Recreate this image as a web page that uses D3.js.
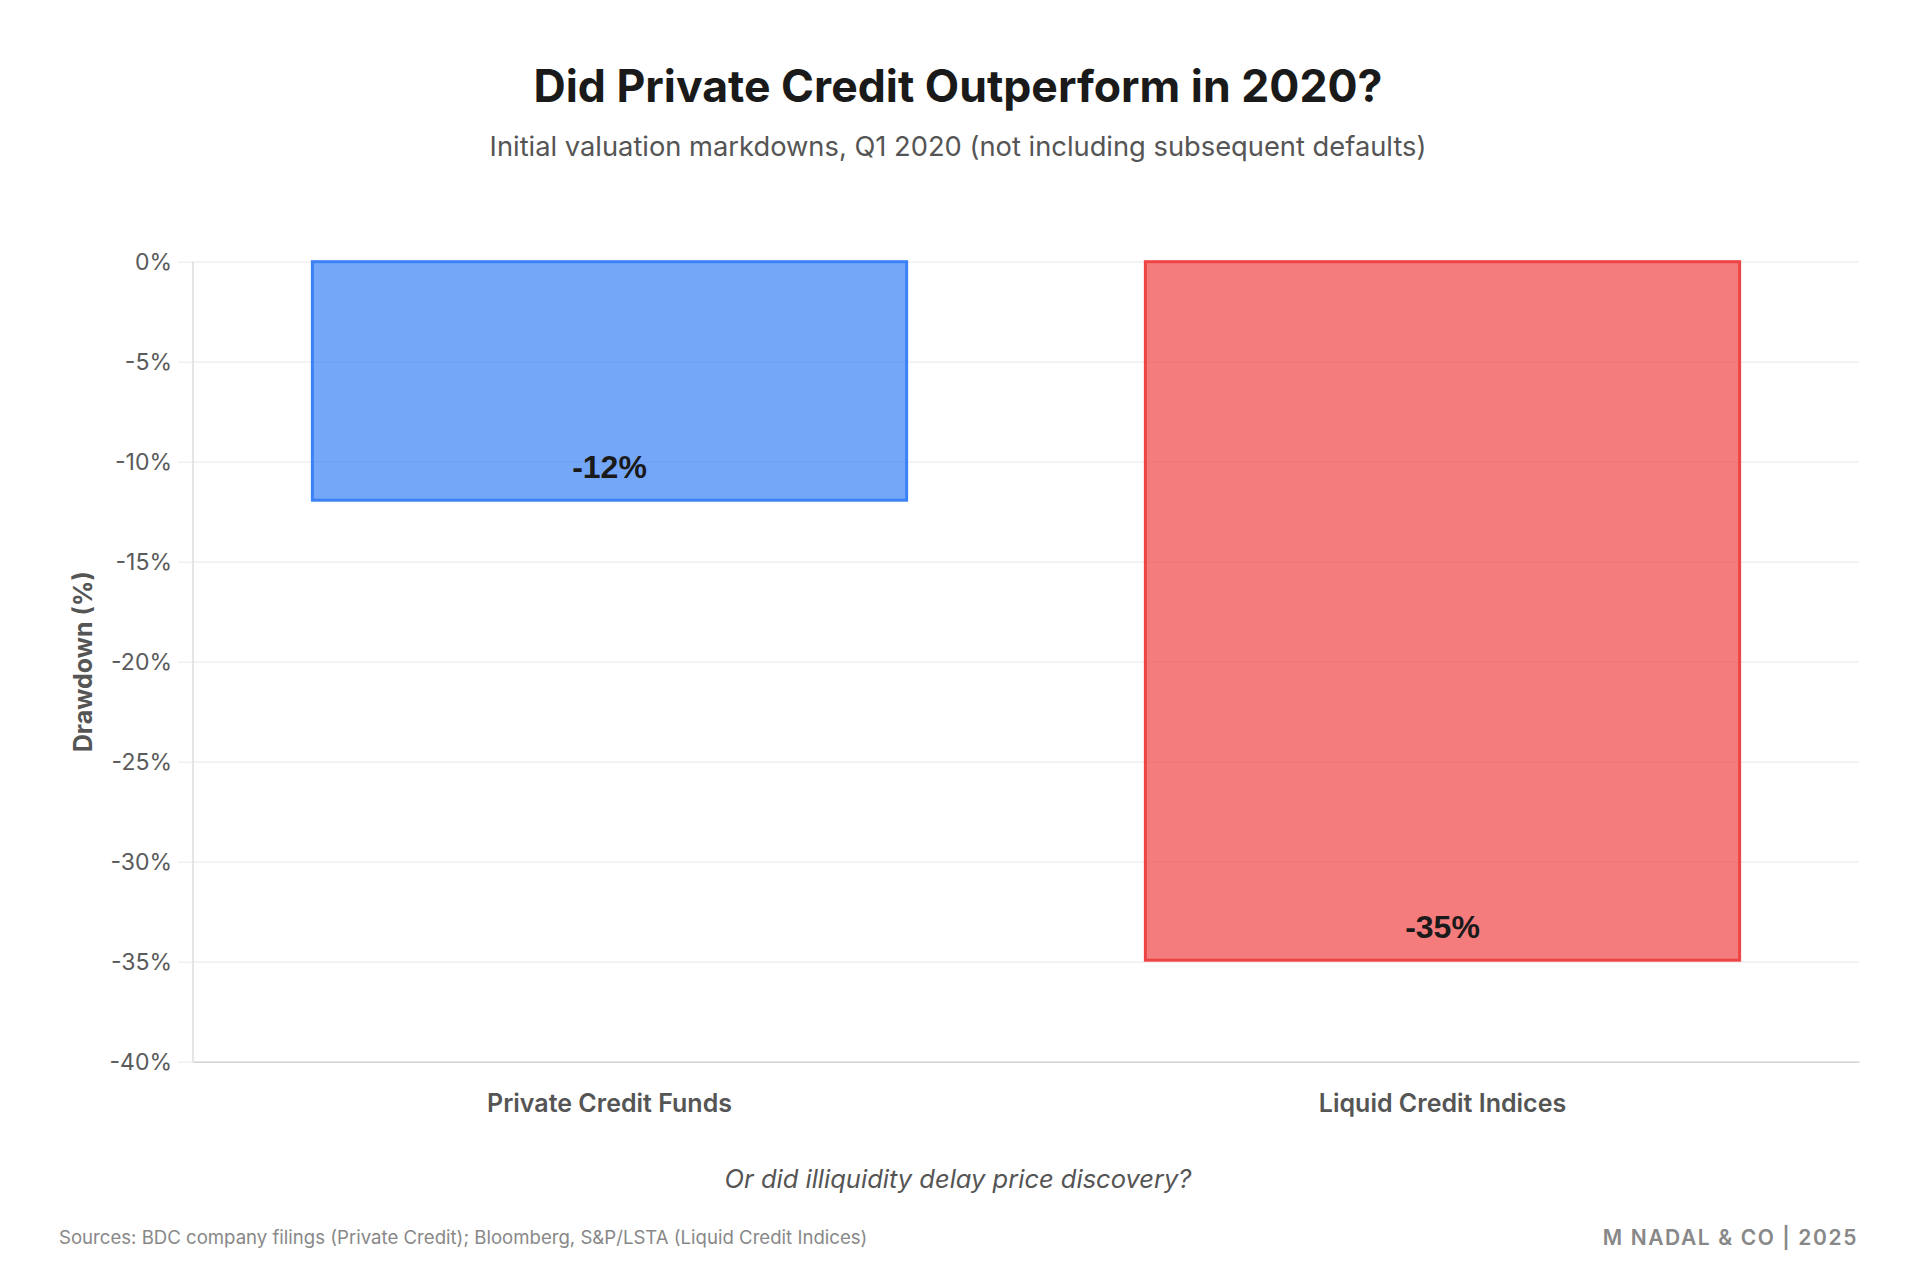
<!DOCTYPE html>
<html>
<head>
<meta charset="utf-8">
<script src="https://cdn.jsdelivr.net/npm/d3@7"></script>
<style>
  html, body { margin: 0; padding: 0; background: #ffffff; }
  svg { display: block; }
</style>
</head>
<body>
<svg id="chart" width="1916" height="1274"></svg>
<script>
// ---- Data ----
const categories = ["Private Credit Funds", "Liquid Credit Indices"];
const drawdowns = [-12, -35];
const barFills = ["#3b82f6", "#ef4444"];
const yTickValues = [0, -5, -10, -15, -20, -25, -30, -35, -40];
const titleText = "Did Private Credit Outperform in 2020?";
const subtitleText = "Initial valuation markdowns, Q1 2020 (not including subsequent defaults)";
const yAxisTitle = "Drawdown (%)";
const noteText = "Or did illiquidity delay price discovery?";
const sourceText = "Sources: BDC company filings (Private Credit); Bloomberg, S&P/LSTA (Liquid Credit Indices)";
const brandText = "M NADAL & CO | 2025";

// ---- Layout ----
const W = 1916, H = 1274;
const margin = { left: 193, right: 57, top: 261.7, bottom: 212.3 };
const innerW = W - margin.left - margin.right;
const innerH = H - margin.top - margin.bottom;

const svg = d3.select("#chart");
const uiFont = "Inter, 'Noto Sans', sans-serif";
const labelFont = "'Liberation Sans', Arial, sans-serif";

const x = d3.scaleBand().domain(categories).range([0, innerW]).paddingInner(0.283).paddingOuter(0.1415);
const y = d3.scaleLinear().domain([0, -40]).range([0, innerH]);

const g = svg.append("g").attr("transform", `translate(${margin.left},${margin.top})`);

// gridlines + y axis
const yAxis = d3.axisLeft(y).tickValues(yTickValues).tickSize(15).tickPadding(6).tickFormat(d => d + "%");
const yg = g.append("g").call(yAxis);
yg.select(".domain").remove();
yg.selectAll(".tick line").attr("stroke", "#ececec").attr("stroke-width", 1.2);
yg.selectAll(".tick text").attr("font-family", uiFont).attr("font-size", 23).attr("fill", "#5a5a5a");

const grid = g.append("g").call(d3.axisLeft(y).tickValues(yTickValues).tickSize(-innerW).tickFormat(""));
grid.select(".domain").remove();
grid.selectAll(".tick line").attr("stroke", "#ececec").attr("stroke-width", 1.2);

// left axis line
g.append("line").attr("x1", 0).attr("x2", 0).attr("y1", 0).attr("y2", innerH).attr("stroke", "#dcdcdc").attr("stroke-width", 1.5);

// bottom axis
const xg = g.append("g").attr("transform", `translate(0,${innerH})`).call(d3.axisBottom(x).tickSize(0).tickPadding(32.5));
xg.select(".domain").attr("stroke", "#d6d6d6").attr("stroke-width", 1.5);
xg.selectAll(".tick text").attr("font-family", uiFont).attr("font-size", 25).attr("font-weight", 600).attr("fill", "#555");

// bars
const bars = categories.map((c, i) => ({ c, v: drawdowns[i], col: barFills[i] }));
g.selectAll("rect.bar").data(bars).join("rect")
  .attr("class", "bar")
  .attr("x", d => x(d.c) + 1.5)
  .attr("width", x.bandwidth() - 3)
  .attr("y", y(0))
  .attr("height", d => y(d.v) - y(0) - 1.5)
  .attr("fill", d => d.col)
  .attr("fill-opacity", 0.7)
  .attr("stroke", d => d.col)
  .attr("stroke-width", 3);

// value labels
g.selectAll("text.val").data(bars).join("text")
  .attr("class", "val")
  .attr("x", d => x(d.c) + x.bandwidth() / 2)
  .attr("y", d => y(d.v) - 24)
  .attr("text-anchor", "middle")
  .attr("font-family", labelFont)
  .attr("font-weight", 700)
  .attr("font-size", 32)
  .attr("fill", "#1a1a1a")
  .text(d => d.v + "%");

// y axis title
svg.append("text")
  .attr("transform", `translate(92,${margin.top + innerH / 2}) rotate(-90)`)
  .attr("text-anchor", "middle")
  .attr("font-family", uiFont).attr("font-weight", 700).attr("font-size", 25).attr("fill", "#555")
  .text(yAxisTitle);

// title & subtitle
svg.append("text").attr("x", W / 2).attr("y", 102).attr("text-anchor", "middle")
  .attr("font-family", uiFont).attr("font-weight", 700).attr("font-size", 44.6).attr("fill", "#1a1a1a")
  .text(titleText);
svg.append("text").attr("x", W / 2).attr("y", 156).attr("text-anchor", "middle")
  .attr("font-family", uiFont).attr("font-weight", 400).attr("font-size", 27.3).attr("fill", "#555")
  .text(subtitleText);

// note
svg.append("text").attr("x", W / 2).attr("y", 1188).attr("text-anchor", "middle")
  .attr("font-family", uiFont).attr("font-style", "italic").attr("font-size", 25.5).attr("fill", "#555")
  .text(noteText);

// footer
svg.append("text").attr("x", 59).attr("y", 1244)
  .attr("font-family", uiFont).attr("font-size", 18.6).attr("fill", "#888")
  .text(sourceText);
svg.append("text").attr("x", 1858).attr("y", 1245).attr("text-anchor", "end")
  .attr("font-family", uiFont).attr("font-weight", 600).attr("font-size", 21).attr("fill", "#888")
  .attr("letter-spacing", 1.6)
  .text(brandText);
</script>
</body>
</html>
